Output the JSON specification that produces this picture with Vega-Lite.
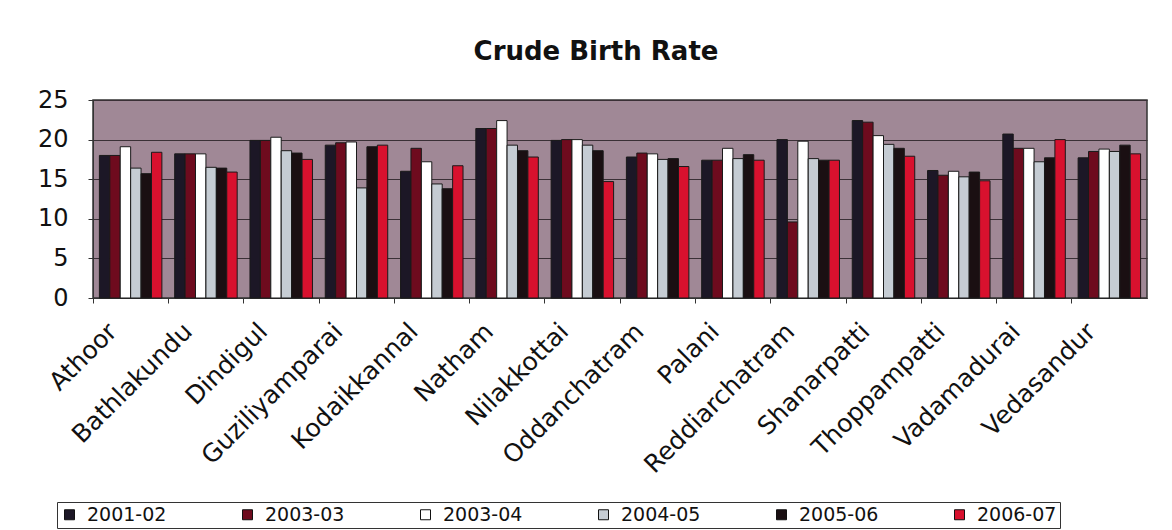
{
  "$schema": "https://vega.github.io/schema/vega-lite/v6.json",
  "autosize": {"type": "none"},
  "padding": {"left": 93, "top": 100, "right": 25, "bottom": 232},
  "width": 1054,
  "height": 198,
  "background": "white",
  "title": {
    "text": "Crude Birth Rate",
    "font": "DejaVu Sans",
    "fontSize": 26,
    "fontWeight": "bold",
    "color": "#111",
    "offset": 23,
    "dx": -24,
    "anchor": "middle"
  },
  "data": {
    "values": [
      {"region": "Athoor", "year": "2001-02", "rate": 18.0},
      {"region": "Athoor", "year": "2003-03", "rate": 18.0},
      {"region": "Athoor", "year": "2003-04", "rate": 19.1},
      {"region": "Athoor", "year": "2004-05", "rate": 16.4},
      {"region": "Athoor", "year": "2005-06", "rate": 15.7},
      {"region": "Athoor", "year": "2006-07", "rate": 18.4},
      {"region": "Bathlakundu", "year": "2001-02", "rate": 18.2},
      {"region": "Bathlakundu", "year": "2003-03", "rate": 18.2},
      {"region": "Bathlakundu", "year": "2003-04", "rate": 18.2},
      {"region": "Bathlakundu", "year": "2004-05", "rate": 16.5},
      {"region": "Bathlakundu", "year": "2005-06", "rate": 16.4},
      {"region": "Bathlakundu", "year": "2006-07", "rate": 15.9},
      {"region": "Dindigul", "year": "2001-02", "rate": 19.9},
      {"region": "Dindigul", "year": "2003-03", "rate": 19.9},
      {"region": "Dindigul", "year": "2003-04", "rate": 20.3},
      {"region": "Dindigul", "year": "2004-05", "rate": 18.6},
      {"region": "Dindigul", "year": "2005-06", "rate": 18.3},
      {"region": "Dindigul", "year": "2006-07", "rate": 17.5},
      {"region": "Guziliyamparai", "year": "2001-02", "rate": 19.3},
      {"region": "Guziliyamparai", "year": "2003-03", "rate": 19.6},
      {"region": "Guziliyamparai", "year": "2003-04", "rate": 19.7},
      {"region": "Guziliyamparai", "year": "2004-05", "rate": 13.9},
      {"region": "Guziliyamparai", "year": "2005-06", "rate": 19.1},
      {"region": "Guziliyamparai", "year": "2006-07", "rate": 19.3},
      {"region": "Kodaikkannal", "year": "2001-02", "rate": 16.0},
      {"region": "Kodaikkannal", "year": "2003-03", "rate": 18.9},
      {"region": "Kodaikkannal", "year": "2003-04", "rate": 17.2},
      {"region": "Kodaikkannal", "year": "2004-05", "rate": 14.4},
      {"region": "Kodaikkannal", "year": "2005-06", "rate": 13.8},
      {"region": "Kodaikkannal", "year": "2006-07", "rate": 16.7},
      {"region": "Natham", "year": "2001-02", "rate": 21.4},
      {"region": "Natham", "year": "2003-03", "rate": 21.4},
      {"region": "Natham", "year": "2003-04", "rate": 22.4},
      {"region": "Natham", "year": "2004-05", "rate": 19.3},
      {"region": "Natham", "year": "2005-06", "rate": 18.6},
      {"region": "Natham", "year": "2006-07", "rate": 17.8},
      {"region": "Nilakkottai", "year": "2001-02", "rate": 19.9},
      {"region": "Nilakkottai", "year": "2003-03", "rate": 20.0},
      {"region": "Nilakkottai", "year": "2003-04", "rate": 20.0},
      {"region": "Nilakkottai", "year": "2004-05", "rate": 19.3},
      {"region": "Nilakkottai", "year": "2005-06", "rate": 18.6},
      {"region": "Nilakkottai", "year": "2006-07", "rate": 14.7},
      {"region": "Oddanchatram", "year": "2001-02", "rate": 17.8},
      {"region": "Oddanchatram", "year": "2003-03", "rate": 18.3},
      {"region": "Oddanchatram", "year": "2003-04", "rate": 18.2},
      {"region": "Oddanchatram", "year": "2004-05", "rate": 17.5},
      {"region": "Oddanchatram", "year": "2005-06", "rate": 17.6},
      {"region": "Oddanchatram", "year": "2006-07", "rate": 16.6},
      {"region": "Palani", "year": "2001-02", "rate": 17.4},
      {"region": "Palani", "year": "2003-03", "rate": 17.4},
      {"region": "Palani", "year": "2003-04", "rate": 18.9},
      {"region": "Palani", "year": "2004-05", "rate": 17.6},
      {"region": "Palani", "year": "2005-06", "rate": 18.1},
      {"region": "Palani", "year": "2006-07", "rate": 17.4},
      {"region": "Reddiarchatram", "year": "2001-02", "rate": 20.0},
      {"region": "Reddiarchatram", "year": "2003-03", "rate": 9.6},
      {"region": "Reddiarchatram", "year": "2003-04", "rate": 19.8},
      {"region": "Reddiarchatram", "year": "2004-05", "rate": 17.6},
      {"region": "Reddiarchatram", "year": "2005-06", "rate": 17.4},
      {"region": "Reddiarchatram", "year": "2006-07", "rate": 17.4},
      {"region": "Shanarpatti", "year": "2001-02", "rate": 22.4},
      {"region": "Shanarpatti", "year": "2003-03", "rate": 22.2},
      {"region": "Shanarpatti", "year": "2003-04", "rate": 20.5},
      {"region": "Shanarpatti", "year": "2004-05", "rate": 19.4},
      {"region": "Shanarpatti", "year": "2005-06", "rate": 18.9},
      {"region": "Shanarpatti", "year": "2006-07", "rate": 17.9},
      {"region": "Thoppampatti", "year": "2001-02", "rate": 16.1},
      {"region": "Thoppampatti", "year": "2003-03", "rate": 15.5},
      {"region": "Thoppampatti", "year": "2003-04", "rate": 16.0},
      {"region": "Thoppampatti", "year": "2004-05", "rate": 15.3},
      {"region": "Thoppampatti", "year": "2005-06", "rate": 15.9},
      {"region": "Thoppampatti", "year": "2006-07", "rate": 14.8},
      {"region": "Vadamadurai", "year": "2001-02", "rate": 20.7},
      {"region": "Vadamadurai", "year": "2003-03", "rate": 18.9},
      {"region": "Vadamadurai", "year": "2003-04", "rate": 18.9},
      {"region": "Vadamadurai", "year": "2004-05", "rate": 17.2},
      {"region": "Vadamadurai", "year": "2005-06", "rate": 17.7},
      {"region": "Vadamadurai", "year": "2006-07", "rate": 20.0},
      {"region": "Vedasandur", "year": "2001-02", "rate": 17.7},
      {"region": "Vedasandur", "year": "2003-03", "rate": 18.5},
      {"region": "Vedasandur", "year": "2003-04", "rate": 18.8},
      {"region": "Vedasandur", "year": "2004-05", "rate": 18.5},
      {"region": "Vedasandur", "year": "2005-06", "rate": 19.3},
      {"region": "Vedasandur", "year": "2006-07", "rate": 18.2}
    ]
  },
  "mark": {"type": "bar", "stroke": "#1a1a1a", "strokeWidth": 1},
  "encoding": {
    "x": {
      "field": "region",
      "type": "nominal",
      "sort": null,
      "scale": {"paddingInner": 0.17, "paddingOuter": 0.085},
      "axis": {
        "title": null,
        "labelAngle": -45,
        "labelAlign": "right",
        "labelBaseline": "middle",
        "labelFont": "DejaVu Sans",
        "labelFontSize": 25,
        "labelColor": "#111",
        "labelLimit": 0,
        "labelPadding": 24,
        "labelOffset": -18,
        "labelOverlap": false,
        "bandPosition": -0.1,
        "ticks": true,
        "tickSize": 5,
        "tickColor": "#333",
        "domain": true,
        "domainColor": "#333",
        "grid": false
      }
    },
    "xOffset": {
      "field": "year",
      "type": "nominal",
      "scale": {"paddingInner": 0, "paddingOuter": 0}
    },
    "y": {
      "field": "rate",
      "type": "quantitative",
      "scale": {"domain": [0, 25]},
      "axis": {
        "title": null,
        "values": [0, 5, 10, 15, 20, 25],
        "labelFont": "DejaVu Sans",
        "labelFontSize": 24,
        "labelColor": "#111",
        "labelPadding": 20,
        "tickSize": 5,
        "tickColor": "#333",
        "domainColor": "#333",
        "grid": true,
        "gridColor": "#3a3036",
        "gridWidth": 1
      }
    },
    "color": {
      "field": "year",
      "type": "nominal",
      "scale": {
        "domain": ["2001-02", "2003-03", "2003-04", "2004-05", "2005-06", "2006-07"],
        "range": ["#1c1726", "#6e0b1e", "#ffffff", "#c5ccd3", "#1a0f12", "#d8112e"]
      },
      "legend": {
        "title": null,
        "orient": "none",
        "legendX": -36,
        "legendY": 402,
        "direction": "horizontal",
        "columns": 6,
        "columnPadding": 71,
        "padding": 3,
        "strokeColor": "#333",
        "symbolType": "square",
        "symbolSize": 100,
        "symbolStrokeColor": "#111",
        "symbolStrokeWidth": 1,
        "labelFont": "DejaVu Sans",
        "labelFontSize": 19,
        "labelColor": "#111",
        "labelOffset": 8,
        "labelLimit": 0
      }
    }
  },
  "config": {
    "view": {"fill": "#a08896", "stroke": "#333", "strokeWidth": 1.5}
  }
}
